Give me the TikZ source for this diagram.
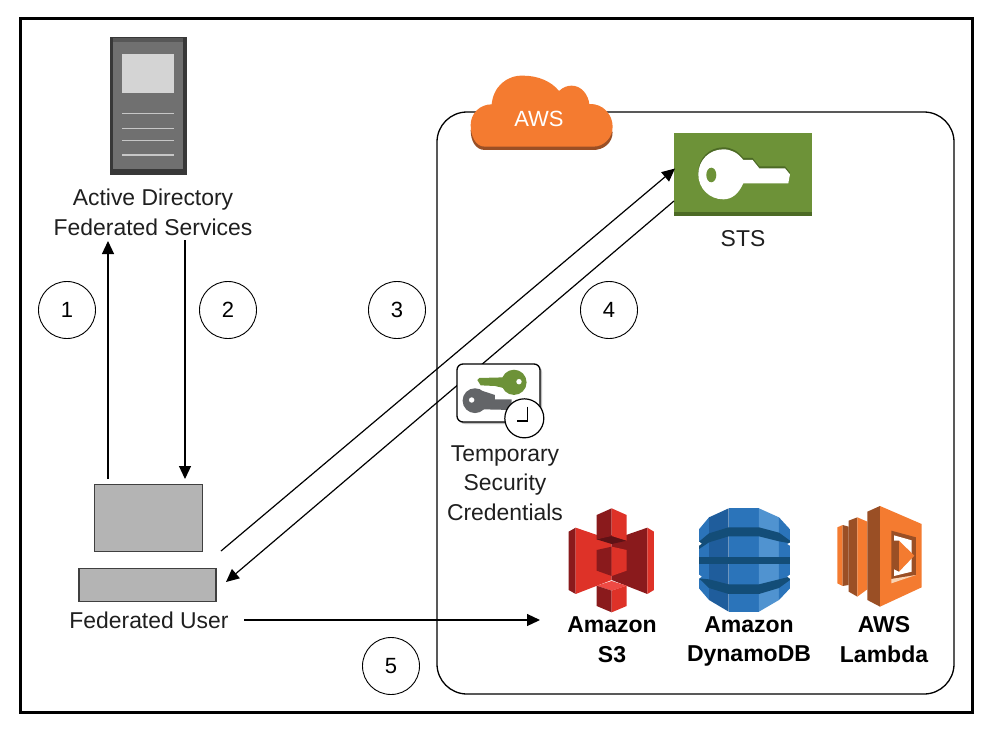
\documentclass[tikz,border=0pt]{standalone}
\usepackage{fontspec}
\setmainfont{Liberation Sans}
\usetikzlibrary{arrows.meta}
\definecolor{awsorange}{HTML}{F47B30}
\definecolor{awsbrown}{HTML}{9A4F25}
\definecolor{stsgreen}{HTML}{6D9238}
\definecolor{stsdark}{HTML}{4C6A25}
\definecolor{keygray}{HTML}{636568}
\definecolor{boxgray}{HTML}{B4B4B4}
\definecolor{sthree}{HTML}{DE3228}
\definecolor{sthreedark}{HTML}{8A1A1C}
\definecolor{sthreelight}{HTML}{EE4A44}
\definecolor{sthreemar}{HTML}{5E1216}
\definecolor{dynmid}{HTML}{2B74BA}
\definecolor{dyndark}{HTML}{1F5D9C}
\definecolor{dynlight}{HTML}{5093D0}
\definecolor{dynband}{HTML}{134D78}
\definecolor{lampale}{HTML}{F9D3B4}
\tikzset{
  lbl/.style={font=\fontsize{22.9}{29.5}\selectfont,align=center,inner sep=0pt,text=black!88},
  bold lbl/.style={font=\fontsize{23}{29.5}\selectfont\bfseries,align=center,inner sep=0pt},
  num/.style={circle,draw=black,line width=0.9pt,minimum size=57pt,inner sep=0pt,font=\fontsize{22}{26}\selectfont},
  flow/.style={line width=1.2pt,-{Triangle[length=13pt,width=12pt]}},
  hw/.style={draw=black!75,line width=1.3pt,fill=boxgray}
}
\begin{document}
\begin{tikzpicture}[x=1pt,y=-1pt]
\useasboundingbox (0,0) rectangle (1002,737);
\fill[white] (0,0) rectangle (1002,737);
\draw[line width=3pt] (20,18) rectangle (972,712);
\draw[line width=1.3pt,rounded corners=30pt] (437,112) rectangle (954,694);

% server
\begin{scope}[shift={(90,25)},x=0.3333pt,y=-0.3333pt]
\fill[black!78] (60,35) rectangle (290,450);
\fill[black!66] (70,40) rectangle (280,52);
\fill[black!56] (70,52) rectangle (280,432);
\fill[black!17] (97,88) rectangle (252,205);
\foreach \yy in {266,310,346,390}{\draw[black!22,line width=1.2pt] (97,\yy) -- (252,\yy);}
\end{scope}
\node[lbl] (adfs) at (153,212.5) {Active Directory\\Federated Services};

% hardware
\node[hw,minimum width=108pt,minimum height=67pt,inner sep=0pt] (monitor) at (148.5,518) {};
\node[hw,minimum width=137pt,minimum height=33pt,inner sep=0pt] (keyboard) at (147.5,585) {};
\node[lbl] (user) at (149,620) {Federated User};

% STS
\node[fill=stsgreen,minimum width=138pt,minimum height=83pt,inner sep=0pt] (sts) at (743,174.5) {};
\fill[stsdark] (674,212) rectangle (812,216);
\begin{scope}[shift={(460,65)},x=0.3333pt,y=-0.3333pt]
\fill[stsdark,yshift=2pt] (790,253) .. controls (815,253) and (835,265) .. (850,285) -- (878,285) -- (898,310) -- (975,310) -- (990,328) -- (985,355) -- (850,355) .. controls (835,388) and (815,403) .. (790,403) .. controls (748,403) and (715,370) .. (715,328) .. controls (715,286) and (748,253) .. (790,253) -- cycle;
\fill[white] (790,253) .. controls (815,253) and (835,265) .. (850,285) -- (878,285) -- (898,310) -- (975,310) -- (990,328) -- (985,355) -- (850,355) .. controls (835,388) and (815,403) .. (790,403) .. controls (748,403) and (715,370) .. (715,328) .. controls (715,286) and (748,253) .. (790,253) -- cycle;
\fill[stsgreen] (754,330) ellipse[x radius=5pt,y radius=7.3pt];
\end{scope}
\node[lbl] (ststext) at (743,239) {STS};

% cloud
\begin{scope}[shift={(460,65)},x=0.3333pt,y=-0.3333pt]
\fill[awsbrown,yshift=-5pt] (75,240) .. controls (45,240) and (32,210) .. (32,180) -- (458,185) .. controls (458,220) and (430,240) .. (400,240) -- cycle;
\fill[awsorange] (75,245) .. controls (45,245) and (32,210) .. (32,180) .. controls (32,145) and (60,118) .. (95,118) .. controls (100,65) and (140,30) .. (190,32) .. controls (235,32) and (275,50) .. (297,78) .. controls (310,65) and (325,62) .. (335,62) .. controls (365,62) and (385,90) .. (388,117) .. controls (430,115) and (458,150) .. (458,185) .. controls (458,220) and (430,245) .. (400,245) -- cycle;
\end{scope}
\node[font=\fontsize{22}{26}\selectfont,text=white,inner sep=0pt] (aws) at (539,119) {AWS};

% connectors
\coordinate (upfrom) at (108,479);
\coordinate (upto) at (108,241);
\coordinate (downfrom) at (185,240);
\coordinate (downto) at (185,479);
\coordinate (outfrom) at (221,551);
\coordinate (outto) at (675,168.5);
\coordinate (backfrom) at (674,201);
\coordinate (backto) at (226,582);
\coordinate (userfrom) at (244,620);
\coordinate (userto) at (540,620);
\draw[flow] (upfrom) -- (upto);
\draw[flow] (downfrom) -- (downto);
\draw[flow] (outfrom) -- (outto);
\draw[flow] (backfrom) -- (backto);
\draw[flow] (userfrom) -- (userto);

\node[num] (n1) at (67,310) {1};
\node[num] (n2) at (228,310) {2};
\node[num] (n3) at (397,310) {3};
\node[num] (n4) at (609,310) {4};
\node[num] (n5) at (391,666) {5};

% credentials
\fill[black!25,rounded corners=6pt] (459,366) rectangle (542,424);
\draw[fill=white,line width=1.3pt,rounded corners=6pt] (457,364) rectangle (540,422);
\begin{scope}[shift={(440,350)},x=0.3333pt,y=-0.3333pt]
\fill[stsgreen] (222,97) circle[radius=12.6pt];
\fill[stsgreen] (112,90) -- (118,84) -- (195,82) -- (195,115) -- (165,108) -- (122,106) -- cycle;
\fill[white] (237,95) circle[radius=2.7pt];
\fill[keygray] (105,152) circle[radius=12.4pt];
\fill[keygray] (125,122) -- (165,135) -- (165,148) -- (215,148) -- (215,180) -- (130,178) -- cycle;
\fill[white] (95,150) circle[radius=2.7pt];
\node[circle,draw=black,fill=white,line width=1.2pt,minimum size=39pt,inner sep=0pt] (clock) at (253,205) {};
\draw[line width=1.1pt] (262,170) -- (262,213) -- (230,213);
\end{scope}
\node[lbl] (cred) at (505,483) {Temporary\\Security\\Credentials};

% S3
\begin{scope}[shift={(560,500)},x=0.3333pt,y=-0.3333pt]
\fill[sthreedark] (26,95) -- (47,83) -- (47,282) -- (26,270) -- cycle;
\fill[sthree] (47,83) -- (155,120) -- (155,240) -- (47,282) -- cycle;
\fill[sthreedark] (155,120) -- (262,83) -- (262,282) -- (155,240) -- cycle;
\fill[sthree] (262,83) -- (282,95) -- (282,270) -- (262,282) -- cycle;
\fill[sthreedark] (110,150) -- (155,140) -- (155,228) -- (110,212) -- cycle;
\fill[sthree] (155,140) -- (200,150) -- (200,212) -- (155,228) -- cycle;
\fill[sthreemar] (110,118) -- (155,105) -- (200,122) -- (155,132) -- cycle;
\fill[sthreedark] (110,45) -- (155,25) -- (155,108) -- (110,118) -- cycle;
\fill[sthree] (155,25) -- (200,45) -- (200,122) -- (155,108) -- cycle;
\fill[sthreelight] (110,257) -- (155,243) -- (200,257) -- (155,272) -- cycle;
\fill[sthreedark] (110,257) -- (155,272) -- (155,337) -- (110,318) -- cycle;
\fill[sthree] (155,272) -- (200,257) -- (200,318) -- (155,337) -- cycle;
\end{scope}

% DynamoDB
\begin{scope}[shift={(690,500)},x=0.3333pt,y=-0.3333pt]
\fill[dynmid] (27,88) -- (57,52) -- (57,300) -- (27,265) -- cycle;
\fill[dyndark] (57,52) -- (116,25) -- (116,335) -- (57,300) -- cycle;
\fill[dynmid] (116,25) rectangle (207,335);
\fill[dynlight] (207,25) -- (267,52) -- (267,300) -- (207,335) -- cycle;
\fill[dynmid] (267,52) -- (300,88) -- (300,265) -- (267,300) -- cycle;
\fill[dynband] (27,125) -- (57,100) -- (116,82) -- (207,82) -- (267,98) -- (300,122) -- (300,130) -- (267,124) -- (207,109) -- (116,109) -- (57,127) -- (27,147) -- cycle;
\fill[dynband] (27,171) -- (300,171) -- (300,191) -- (27,191) -- cycle;
\fill[dynband] (27,235) -- (57,238) -- (116,253) -- (207,253) -- (267,238) -- (300,230) -- (300,240) -- (267,264) -- (207,282) -- (116,282) -- (57,264) -- cycle;
\fill[white] (27,125) -- (35,131) -- (27,137) -- cycle;
\fill[white] (300,128) -- (292,132) -- (300,137) -- cycle;
\fill[white] (27,224) -- (35,230) -- (27,236) -- cycle;
\fill[white] (300,224) -- (292,230) -- (300,236) -- cycle;
\end{scope}

% Lambda
\begin{scope}[shift={(830,500)},x=0.3333pt,y=-0.3333pt]
\fill[awsorange] (22,82) -- (38,75) -- (38,258) -- (22,250) -- cycle;
\fill[awsbrown] (38,75) -- (56,80) -- (56,255) -- (38,258) -- cycle;
\fill[awsbrown] (56,62) -- (82,52) -- (82,290) -- (56,275) -- cycle;
\fill[awsorange] (82,52) -- (112,65) -- (112,268) -- (82,290) -- cycle;
\fill[awsbrown] (112,35) -- (150,18) -- (150,320) -- (112,300) -- cycle;
\fill[awsorange] (150,18) -- (275,72) -- (275,262) -- (150,320) -- cycle;
\fill[awsbrown] (184,92) -- (258,112) -- (258,225) -- (184,237) -- cycle;
\fill[lampale] (184,237) -- (258,225) -- (184,250) -- cycle;
\fill[white] (192,106) -- (245,121) -- (245,215) -- (192,228) -- cycle;
\fill[awsbrown] (187,122) -- (207,122) -- (207,215) -- (187,205) -- cycle;
\fill[awsorange] (207,122) -- (253,167) -- (207,215) -- cycle;
\end{scope}

\node[bold lbl] (s3) at (612,639.5) {Amazon\\S3};
\node[bold lbl] (ddb) at (749,641.5) {Amazon\\DynamoDB};
\node[bold lbl] (lam) at (884,639.5) {AWS\\Lambda};
\end{tikzpicture}
\end{document}
